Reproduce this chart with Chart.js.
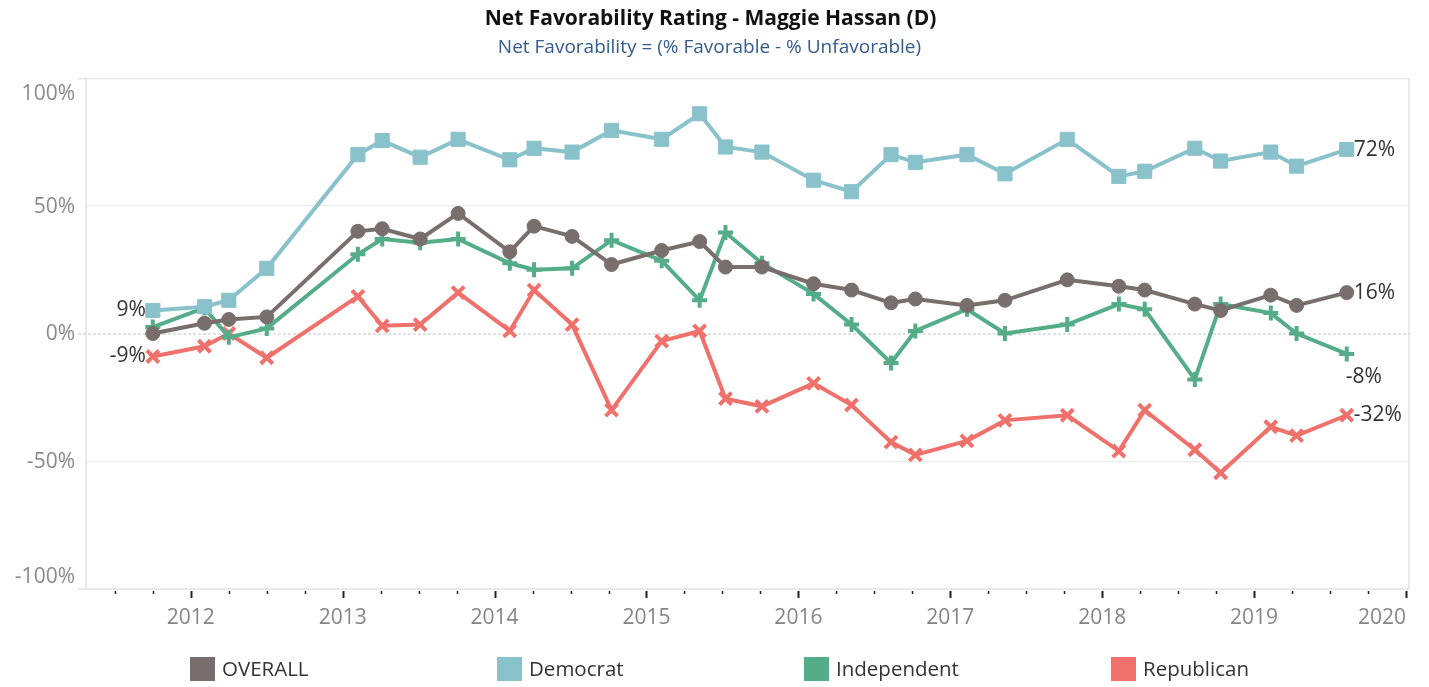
<!DOCTYPE html>
<html>
<head>
<meta charset="utf-8">
<title>Net Favorability Rating - Maggie Hassan (D)</title>
<script src="https://cdn.jsdelivr.net/npm/chart.js@4"></script>
<style>
  body { margin: 0; background: #fff; }
  #wrap { width: 1429px; height: 687px; }
</style>
</head>
<body>
<div id="wrap"><canvas id="my-chart" width="1429" height="687"></canvas></div>
<script>
'use strict';

// ***** DATA *****
// poll dates as decimal years
let pollDates = [
  2011.75, 2012.09, 2012.25, 2012.50, 2013.10, 2013.26, 2013.51, 2013.76,
  2014.10, 2014.26, 2014.51, 2014.77, 2015.10, 2015.35, 2015.52, 2015.76,
  2016.10, 2016.35, 2016.61, 2016.77, 2017.11, 2017.36, 2017.77, 2018.11,
  2018.28, 2018.61, 2018.78, 2019.11, 2019.28, 2019.61
];

let overallValues = [
  0, 4, 5.5, 6.5, 40, 41, 37, 47,
  32, 42, 38, 27, 32.5, 36, 26, 26,
  19.5, 17, 12, 13.5, 11, 13, 21, 18.5,
  17, 11.5, 9, 15, 11, 16
];

let democratValues = [
  9, 10.5, 13, 25.5, 70, 75.5, 69, 76,
  68, 72.5, 71, 79.5, 76, 86, 73, 71,
  60, 55.5, 70, 67, 70, 62.5, 76, 61.5,
  63.5, 72.5, 67.5, 71, 65.5, 72
];

let independentValues = [
  2.5, 10, -1.5, 2, 31, 37, 35.5, 37,
  27.5, 25, 25.5, 36.5, 28.5, 13, 39.5, 27.5,
  15.5, 3.5, -11.5, 1, 9.5, 0, 3.5, 11.5,
  9.5, -18, 11.5, 8, 0, -8
];

let republicanValues = [
  -9, -5, 0, -9.5, 14.5, 3, 3.5, 16,
  1, 17, 3.5, -30, -3, 1, -25.5, -28.5,
  -19.5, -28, -42.5, -47.5, -42, -34, -32, -46,
  -30, -45.5, -54.5, -36.5, -40, -32
];

let seriesNames = ['OVERALL', 'Democrat', 'Independent', 'Republican'];
let seriesColors = ['#786e6c', '#8ac2cb', '#54ad88', '#f0716b'];
let seriesPoints = ['circle', 'rect', 'cross', 'crossRot'];

// tick labels
let yearTicks = [2012, 2013, 2014, 2015, 2016, 2017, 2018, 2019, 2020];
let yTicks = [-100, -50, 0, 50, 100];

// which series get a label at their first point
let firstLabelSeries = ['Democrat', 'Republican'];

// ***** HELPERS *****
function toPoints(values) {
  let pts = [];
  for (let i = 0; i < values.length; i++) {
    pts.push({ x: pollDates[i], y: values[i] });
  }
  return pts;
}

function quarterTicks() {
  // quarter marks between the years, plus the two before 2012
  let out = [yearTicks[0] - 0.5, yearTicks[0] - 0.25];
  for (let i = 0; i < yearTicks.length; i++) {
    out.push(yearTicks[i]);
    if (i < yearTicks.length - 1) {
      out.push(yearTicks[i] + 0.25, yearTicks[i] + 0.5, yearTicks[i] + 0.75);
    }
  }
  return out;
}

function pctLabel(v) {
  return Math.round(v) + '%';
}

let allValues = [overallValues, democratValues, independentValues, republicanValues];
let pointSizes = [7, 10, 7.5, 8.5];
let pointBorders = [1, 1, 4, 4];

let datasets = [];
for (let i = 0; i < seriesNames.length; i++) {
  datasets.push({
    label: seriesNames[i],
    data: toPoints(allValues[i]),
    borderColor: seriesColors[i],
    backgroundColor: seriesColors[i],
    borderWidth: 4,
    pointStyle: seriesPoints[i],
    pointRadius: pointSizes[i],
    pointBorderWidth: pointBorders[i],
    pointBackgroundColor: seriesColors[i],
    pointBorderColor: seriesColors[i],
    tension: 0
  });
}

const FONT = "'Open Sans', 'Noto Sans', sans-serif";

// ***** PLUGIN: frame, y labels, tick marks, end labels, legend, titles *****
let decorPlugin = {
  id: 'decor',
  beforeDatasetsDraw(chart) {
    let c = chart.ctx;
    let a = chart.chartArea;
    let ys = chart.scales.y;
    let xs = chart.scales.x;

    c.save();
    // frame
    c.strokeStyle = '#e4e4e4';
    c.lineWidth = 1.5;
    c.beginPath();
    c.moveTo(a.left - 8, a.top + 0.5);
    c.lineTo(a.right, a.top + 0.5);
    c.lineTo(a.right, a.bottom);
    c.moveTo(a.left - 8, a.bottom);
    c.lineTo(a.right, a.bottom);
    c.moveTo(a.left, a.top);
    c.lineTo(a.left, a.bottom);
    c.stroke();

    // zero line
    let y0 = ys.getPixelForValue(0);
    c.strokeStyle = '#c4c4c4';
    c.lineWidth = 1;
    c.setLineDash([3, 2]);
    c.beginPath();
    c.moveTo(a.left - 8, y0 + 0.5);
    c.lineTo(a.right, y0 + 0.5);
    c.stroke();
    c.setLineDash([]);

    // y labels (edge labels pulled inside like the original)
    c.font = '21px ' + FONT;
    c.fillStyle = '#8a8a8a';
    c.textAlign = 'right';
    c.textBaseline = 'middle';
    for (let v of yTicks) {
      let py = ys.getPixelForValue(v);
      if (v === ys.max) py += 15;
      if (v === ys.min) py -= 13;
      c.fillText(v + '%', a.left - 11, py + 1);
    }

    // x tick marks
    c.strokeStyle = '#222';
    for (let q of quarterTicks()) {
      let px = Math.round(xs.getPixelForValue(q)) + 0.5;
      let major = Number.isInteger(q);
      c.lineWidth = major ? 2 : 1.5;
      c.beginPath();
      c.moveTo(px, a.bottom + 2);
      c.lineTo(px, a.bottom + (major ? 9 : 5));
      c.stroke();
    }
    c.restore();
  },
  afterDatasetsDraw(chart) {
    let c = chart.ctx;
    c.save();
    c.font = '21px ' + FONT;
    c.fillStyle = '#333';
    c.textBaseline = 'middle';
    chart.data.datasets.forEach((ds, i) => {
      let meta = chart.getDatasetMeta(i);
      let last = meta.data[meta.data.length - 1];
      let lastVal = ds.data[ds.data.length - 1].y;
      if (ds.label === 'Independent') {
        // placed under the point in the original
        c.textAlign = 'left';
        c.fillText(pctLabel(lastVal), last.x - 1, last.y + 23);
      } else {
        c.textAlign = 'left';
        c.fillText(pctLabel(lastVal), last.x + 7, last.y);
      }
      if (firstLabelSeries.indexOf(ds.label) >= 0) {
        let first = meta.data[0];
        c.textAlign = 'right';
        c.fillText(pctLabel(ds.data[0].y), first.x - 7, first.y);
      }
    });
    c.restore();
  },
  afterDraw(chart) {
    let c = chart.ctx;
    let w = chart.width;
    c.save();
    // titles
    c.textAlign = 'center';
    c.textBaseline = 'middle';
    c.fillStyle = '#111';
    c.font = 'bold 21px ' + FONT;
    c.fillText('Net Favorability Rating - Maggie Hassan (D)', w / 2 - 4, 19);
    c.fillStyle = '#335b8c';
    c.font = '19px ' + FONT;
    c.fillText('Net Favorability = (% Favorable - % Unfavorable)', w / 2 - 5, 48);

    // legend
    let legendLeft = 190;
    let legendStep = 307;
    let legendY = 669;
    c.textAlign = 'left';
    c.font = '20.5px ' + FONT;
    for (let i = 0; i < seriesNames.length; i++) {
      let lx = legendLeft + i * legendStep;
      c.fillStyle = seriesColors[i];
      c.fillRect(lx, legendY - 12, 25, 24);
      c.fillStyle = '#333';
      c.fillText(seriesNames[i], lx + 32, legendY + 1);
    }
    c.restore();
  }
};

// ***** CHART *****
let ctx = document.getElementById('my-chart');

let chartObj = {
  type: 'line',
  data: { datasets: datasets },
  options: {
    responsive: false,
    animation: false,
    layout: { padding: { left: 0, right: 20, top: 78, bottom: 0 } },
    plugins: {
      legend: { display: false },
      tooltip: { enabled: false },
      title: { display: false }
    },
    scales: {
      x: {
        type: 'linear',
        min: 2011.31,
        max: 2020.02,
        afterBuildTicks: scale => {
          scale.ticks = quarterTicks().map(v => ({ value: v }));
        },
        afterFit: scale => { scale.height = 98; },
        grid: { display: false },
        border: { display: false },
        ticks: {
          autoSkip: false,
          maxRotation: 0,
          align: 'inner',
          padding: 8,
          color: '#858585',
          font: { family: FONT, size: 21 },
          callback: v => (yearTicks.indexOf(v) >= 0 ? String(v) : '')
        }
      },
      y: {
        min: -100,
        max: 100,
        afterBuildTicks: scale => {
          scale.ticks = yTicks.map(v => ({ value: v }));
        },
        afterFit: scale => { scale.width = 86; },
        border: { display: false },
        grid: {
          drawTicks: false,
          lineWidth: 1.5,
          color: c => (Math.abs(c.tick.value) === 50 ? '#ededed' : 'rgba(0,0,0,0)')
        },
        ticks: { display: false }
      }
    }
  },
  plugins: [decorPlugin]
};

new Chart(ctx, chartObj);
</script>
</body>
</html>
